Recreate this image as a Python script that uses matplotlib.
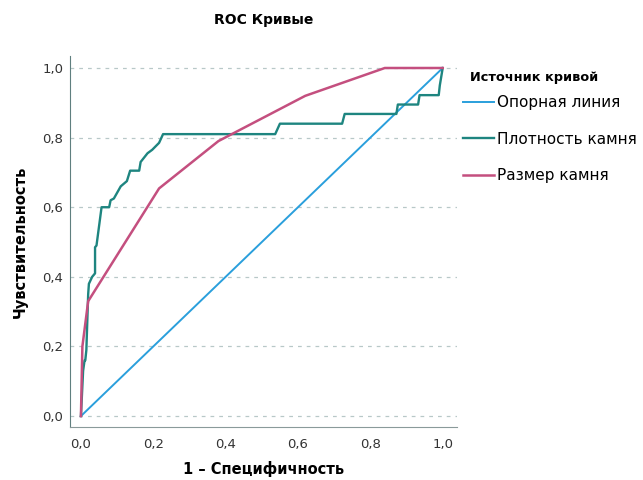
import matplotlib
matplotlib.use('Agg')
import matplotlib.pyplot as plt
from matplotlib.ticker import FuncFormatter

# Данные кривых
ref_x = [0.0, 1.0]
ref_y = [0.0, 1.0]

dens_x = [0.0, 0.006, 0.010, 0.012, 0.015, 0.015, 0.020, 0.022, 0.031, 0.039, 0.039, 0.043,
          0.057, 0.078, 0.082, 0.091, 0.110, 0.127, 0.136, 0.161, 0.165, 0.184, 0.197,
          0.216, 0.227, 0.537, 0.550, 0.722, 0.729, 0.872, 0.876, 0.932, 0.936, 0.989,
          0.992, 1.0]
dens_y = [0.0, 0.13, 0.16, 0.16, 0.19, 0.19, 0.35, 0.38, 0.40, 0.41, 0.485, 0.49,
          0.60, 0.60, 0.62, 0.625, 0.66, 0.675, 0.705, 0.705, 0.73, 0.755, 0.765,
          0.785, 0.81, 0.81, 0.84, 0.84, 0.868, 0.868, 0.895, 0.895, 0.922, 0.922,
          0.95, 1.0]

size_x = [0.0, 0.004, 0.02, 0.216, 0.38, 0.62, 0.84, 1.0]
size_y = [0.0, 0.20, 0.33, 0.654, 0.79, 0.92, 1.0, 1.0]

fig = plt.figure(figsize=(6.43, 4.8), dpi=100)
ax = fig.add_axes([0.109, 0.110, 0.602, 0.773])

ax.plot(ref_x, ref_y, color='#2a9fdc', lw=1.4, label='Опорная линия')
ax.plot(dens_x, dens_y, color='#1e8580', lw=1.7, label='Плотность камня')
ax.plot(size_x, size_y, color='#c44f7f', lw=1.8, label='Размер камня')

ax.set_xlim(-0.03, 1.04)
ax.set_ylim(-0.032, 1.034)
ax.set_xticks([0, 0.2, 0.4, 0.6, 0.8, 1.0])
ax.set_yticks([0, 0.2, 0.4, 0.6, 0.8, 1.0])
fmt = FuncFormatter(lambda v, p: f'{v:.1f}'.replace('.', ','))
ax.xaxis.set_major_formatter(fmt)
ax.yaxis.set_major_formatter(fmt)
ax.tick_params(length=0, labelsize=9.5, colors='#333333')
ax.tick_params(axis='x', pad=8)
ax.tick_params(axis='y', pad=5)

ax.yaxis.grid(True, linestyle=(0, (3, 4)), color='#b8c8c8', lw=0.9)
ax.set_axisbelow(True)
for s in ['top', 'right']:
    ax.spines[s].set_visible(False)
ax.spines['left'].set_color('#5f7f7f')
ax.spines['bottom'].set_color('#8a9a9a')

ax.set_title('ROC Кривые', fontsize=10, fontweight='bold', pad=23)
ax.set_xlabel('1 – Специфичность', fontsize=10.5, fontweight='bold', labelpad=7)
ax.set_ylabel('Чувствительность', fontsize=10.5, fontweight='bold', labelpad=10)

# легенда: заголовок отдельным текстом, чтобы задать отступ как в оригинале
fig.text(0.731, 1 - 77 / 480, 'Источник кривой', fontsize=9.3, fontweight='bold',
         va='center', ha='left')
leg = ax.legend(loc='upper left', bbox_to_anchor=(0.720, 1 - 95 / 480),
                bbox_transform=fig.transFigure, frameon=False,
                fontsize=11, handlelength=2.0, handletextpad=0.25,
                labelspacing=1.42, borderaxespad=0, borderpad=0)

plt.savefig('out.png', dpi=100)
plt.close()
